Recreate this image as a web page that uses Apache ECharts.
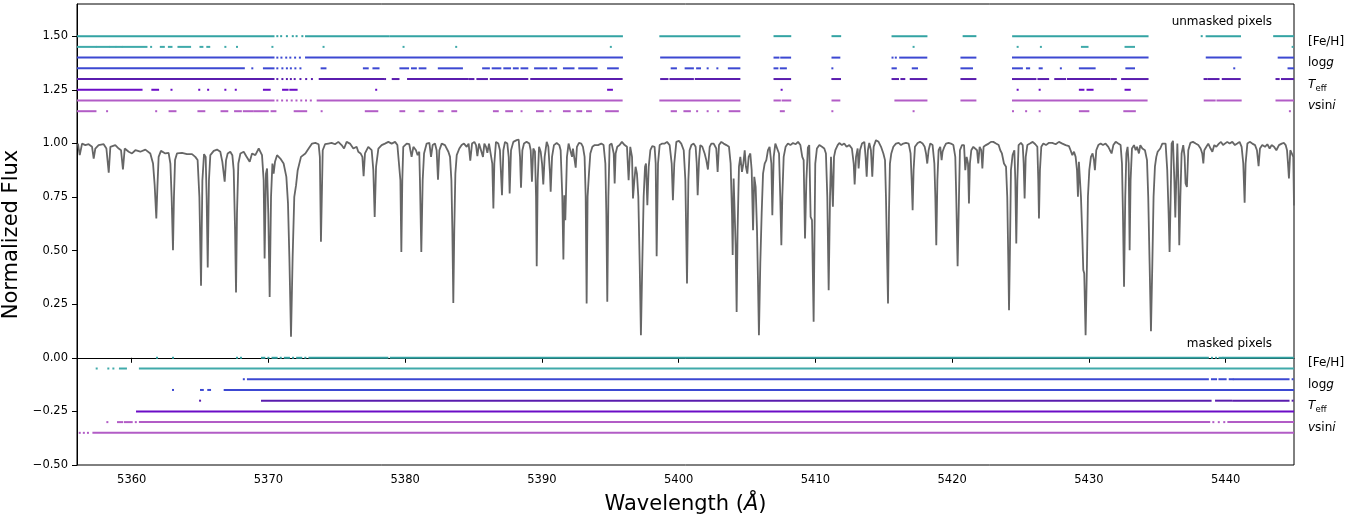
<!DOCTYPE html>
<html><head><meta charset="utf-8">
<script src="https://cdn.jsdelivr.net/npm/echarts@6/dist/echarts.min.js"></script>
<style>html,body{margin:0;padding:0;background:#fff}#c{width:1372px;height:519px}</style>
</head><body><div id="c"></div>
<script>
// ---------------- spectrum (wavelength in Å, normalized flux) ----------------
const wavelength = [
5356.07,5356.20,5356.37,5356.61,5356.85,5357.10,5357.22,5357.34,5357.58,5357.95,5358.15,5358.32,5358.44,5358.80,5359.05,5359.22,5359.36,5359.49,5359.78,5360.02,
5360.27,5360.63,5361.00,5361.36,5361.56,5361.68,5361.80,5361.88,5361.97,5362.14,5362.46,5362.70,5362.83,5362.92,5363.02,5363.09,5363.17,5363.31,5363.68,5364.04,
5364.41,5364.65,5364.82,5364.95,5365.07,5365.17,5365.29,5365.41,5365.48,5365.56,5365.65,5365.75,5366.00,5366.24,5366.48,5366.63,5366.73,5366.80,5366.90,5367.02,
5367.21,5367.36,5367.46,5367.56,5367.63,5367.70,5367.80,5367.95,5368.19,5368.38,5368.63,5368.80,5369.04,5369.29,5369.53,5369.65,5369.72,5369.82,5369.90,5369.99,
5370.09,5370.19,5370.29,5370.38,5370.48,5370.63,5370.87,5371.11,5371.31,5371.43,5371.53,5371.65,5371.77,5371.89,5372.02,5372.14,5372.38,5372.70,5372.94,5373.19,
5373.43,5373.67,5373.76,5373.84,5373.97,5374.14,5374.38,5374.62,5374.87,5375.11,5375.35,5375.53,5375.72,5375.96,5376.21,5376.45,5376.57,5376.74,5376.87,5376.96,
5377.06,5377.18,5377.30,5377.43,5377.55,5377.67,5377.77,5377.87,5378.04,5378.28,5378.52,5378.77,5379.01,5379.26,5379.43,5379.57,5379.65,5379.72,5379.79,5379.86,
5380.11,5380.30,5380.47,5380.60,5380.79,5380.91,5381.03,5381.08,5381.18,5381.28,5381.38,5381.57,5381.77,5381.89,5382.01,5382.18,5382.30,5382.40,5382.50,5382.67,
5382.91,5383.16,5383.28,5383.38,5383.45,5383.52,5383.59,5383.67,5383.77,5383.96,5384.13,5384.30,5384.50,5384.64,5384.76,5384.89,5385.06,5385.18,5385.28,5385.40,
5385.54,5385.69,5385.79,5385.91,5386.01,5386.13,5386.25,5386.37,5386.45,5386.52,5386.64,5386.81,5386.93,5387.08,5387.18,5387.30,5387.47,5387.57,5387.64,5387.74,
5387.91,5388.15,5388.30,5388.40,5388.47,5388.57,5388.69,5388.88,5389.08,5389.18,5389.27,5389.37,5389.49,5389.57,5389.62,5389.69,5389.79,5389.91,5390.01,5390.10,
5390.20,5390.35,5390.47,5390.59,5390.64,5390.74,5390.88,5391.08,5391.27,5391.37,5391.49,5391.57,5391.64,5391.71,5391.83,5391.95,5392.08,5392.20,5392.27,5392.37,
5392.47,5392.56,5392.71,5392.88,5393.00,5393.12,5393.20,5393.27,5393.34,5393.44,5393.54,5393.69,5393.86,5394.10,5394.34,5394.51,5394.64,5394.71,5394.78,5394.86,
5394.95,5395.10,5395.25,5395.32,5395.39,5395.51,5395.68,5395.85,5396.05,5396.22,5396.34,5396.46,5396.59,5396.66,5396.76,5396.85,5396.95,5397.05,5397.15,5397.24,
5397.34,5397.44,5397.54,5397.61,5397.71,5397.81,5397.93,5398.07,5398.24,5398.32,5398.39,5398.49,5398.61,5398.80,5398.98,5399.15,5399.34,5399.49,5399.58,5399.68,
5399.83,5400.02,5400.19,5400.37,5400.49,5400.61,5400.71,5400.80,5400.93,5401.10,5401.24,5401.32,5401.39,5401.49,5401.58,5401.73,5401.90,5402.02,5402.14,5402.27,
5402.39,5402.56,5402.75,5402.85,5402.95,5403.12,5403.29,5403.49,5403.68,5403.80,5403.90,5403.95,5404.02,5404.09,5404.17,5404.24,5404.31,5404.41,5404.51,5404.63,
5404.73,5404.83,5404.92,5405.02,5405.12,5405.24,5405.34,5405.44,5405.53,5405.63,5405.73,5405.80,5405.87,5405.97,5406.07,5406.17,5406.29,5406.41,5406.53,5406.65,
5406.78,5406.85,5406.95,5407.07,5407.19,5407.34,5407.43,5407.51,5407.58,5407.68,5407.82,5407.99,5408.17,5408.36,5408.56,5408.73,5408.90,5409.04,5409.14,5409.24,
5409.34,5409.45,5409.55,5409.65,5409.75,5409.87,5409.99,5410.11,5410.29,5410.48,5410.65,5410.77,5410.87,5410.97,5411.07,5411.14,5411.21,5411.28,5411.36,5411.46,
5411.63,5411.75,5411.94,5412.11,5412.28,5412.48,5412.67,5412.80,5412.87,5412.97,5413.09,5413.16,5413.26,5413.41,5413.58,5413.67,5413.75,5413.84,5413.94,5414.06,
5414.16,5414.26,5414.43,5414.62,5414.80,5414.97,5415.09,5415.16,5415.23,5415.31,5415.38,5415.45,5415.55,5415.70,5415.89,5416.09,5416.26,5416.43,5416.62,5416.82,
5416.96,5417.04,5417.11,5417.18,5417.28,5417.48,5417.65,5417.84,5417.99,5418.09,5418.18,5418.28,5418.40,5418.57,5418.70,5418.77,5418.84,5418.92,5419.01,5419.13,
5419.23,5419.30,5419.43,5419.55,5419.74,5419.91,5420.09,5420.23,5420.30,5420.40,5420.50,5420.57,5420.72,5420.87,5420.96,5421.06,5421.16,5421.23,5421.30,5421.40,
5421.55,5421.69,5421.82,5421.91,5422.01,5422.13,5422.21,5422.30,5422.47,5422.67,5422.84,5423.01,5423.21,5423.40,5423.52,5423.64,5423.79,5423.94,5424.03,5424.11,
5424.16,5424.23,5424.30,5424.42,5424.55,5424.62,5424.69,5424.77,5424.86,5425.03,5425.16,5425.23,5425.30,5425.38,5425.50,5425.69,5425.89,5426.08,5426.23,5426.30,
5426.35,5426.42,5426.52,5426.67,5426.86,5427.06,5427.32,5427.57,5427.81,5428.06,5428.30,5428.54,5428.66,5428.79,5428.91,5429.03,5429.13,5429.20,5429.27,5429.35,
5429.42,5429.52,5429.59,5429.66,5429.76,5429.86,5429.93,5430.03,5430.15,5430.27,5430.37,5430.44,5430.54,5430.69,5430.86,5431.03,5431.22,5431.42,5431.54,5431.66,
5431.79,5431.96,5432.15,5432.32,5432.42,5432.49,5432.57,5432.66,5432.74,5432.83,5432.91,5432.98,5433.05,5433.15,5433.30,5433.42,5433.52,5433.66,5433.76,5433.91,
5434.10,5434.25,5434.34,5434.44,5434.54,5434.64,5434.73,5434.83,5434.93,5435.03,5435.12,5435.22,5435.37,5435.49,5435.61,5435.73,5435.83,5435.90,5435.98,5436.05,
5436.15,5436.25,5436.32,5436.39,5436.47,5436.54,5436.61,5436.69,5436.78,5436.90,5437.00,5437.07,5437.17,5437.27,5437.42,5437.61,5437.81,5438.00,5438.17,5438.29,
5438.37,5438.44,5438.59,5438.73,5438.90,5439.03,5439.17,5439.32,5439.51,5439.66,5439.81,5439.95,5440.12,5440.29,5440.49,5440.68,5440.85,5441.02,5441.17,5441.29,
5441.39,5441.46,5441.59,5441.76,5441.95,5442.15,5442.29,5442.41,5442.51,5442.68,5442.88,5443.05,5443.22,5443.36,5443.54,5443.71,5443.90,5444.10,5444.27,5444.39,
5444.49,5444.56,5444.63,5444.73,5444.83,5444.95,5445.00
];
const flux = [
0.999,0.945,0.999,0.992,0.996,0.984,0.929,0.976,0.992,0.996,0.976,0.863,0.984,0.992,0.976,0.968,0.878,0.976,0.961,0.953,
0.968,0.961,0.971,0.953,0.906,0.805,0.650,0.797,0.937,0.965,0.953,0.956,0.906,0.751,0.502,0.751,0.922,0.953,0.956,0.950,
0.950,0.937,0.922,0.751,0.336,0.828,0.950,0.937,0.751,0.421,0.828,0.945,0.965,0.971,0.961,0.914,0.906,0.821,0.922,0.953,
0.961,0.945,0.875,0.595,0.304,0.673,0.906,0.953,0.961,0.940,0.914,0.953,0.945,0.976,0.945,0.828,0.463,0.859,0.883,0.673,
0.284,0.751,0.906,0.859,0.914,0.945,0.929,0.906,0.844,0.720,0.471,0.098,0.471,0.751,0.805,0.875,0.937,0.953,0.976,0.999,
1.002,0.996,0.937,0.541,0.968,0.996,0.999,1.002,0.996,1.007,0.992,0.976,1.007,0.999,0.976,0.984,0.961,0.953,0.937,0.847,
0.953,0.945,0.984,0.992,0.968,0.875,0.657,0.891,0.976,0.992,0.999,1.007,0.999,1.007,0.992,0.984,0.828,0.494,0.828,0.984,
0.999,0.996,0.937,0.984,0.968,0.945,0.961,0.828,0.494,0.828,0.953,0.999,1.002,0.937,0.992,0.999,0.968,0.831,0.968,0.999,
0.992,0.961,0.937,0.828,0.595,0.256,0.595,0.859,0.945,0.976,0.992,0.999,0.984,0.999,0.919,0.999,1.007,0.992,0.940,0.999,
1.007,0.937,0.999,0.984,0.956,0.999,1.007,0.906,0.696,0.906,1.007,0.999,0.968,0.758,0.968,1.007,0.999,0.937,0.766,0.968,
1.007,1.015,1.018,0.937,0.793,0.968,0.999,1.007,0.999,0.968,0.821,0.976,0.961,0.751,0.427,0.828,0.984,0.961,0.906,0.808,
0.937,1.007,0.984,0.859,0.774,0.937,0.992,1.002,0.992,0.968,0.751,0.458,0.758,0.642,0.937,0.999,0.992,0.937,0.976,0.968,
0.887,0.984,1.002,0.999,0.984,0.937,0.751,0.253,0.751,0.859,0.953,0.984,0.992,0.992,0.999,0.992,0.906,0.673,0.261,0.751,
0.992,0.999,0.953,0.813,0.953,0.984,0.992,1.007,0.992,0.984,0.828,0.984,0.937,0.743,0.828,0.891,0.859,0.751,0.440,0.105,
0.440,0.751,0.891,0.906,0.712,0.891,0.968,0.987,0.984,0.906,0.474,0.906,0.992,0.999,0.999,1.007,0.992,0.906,0.735,0.906,
1.007,1.012,0.999,0.968,0.828,0.346,0.828,0.968,0.992,0.999,0.984,0.906,0.758,0.922,0.992,0.984,0.953,0.922,0.878,0.984,
0.999,0.999,0.976,0.867,0.992,1.007,0.999,0.992,0.984,0.906,0.673,0.479,0.836,0.828,0.517,0.214,0.595,0.891,0.937,0.867,
0.906,0.968,0.891,0.859,0.937,0.953,0.875,0.595,0.844,0.797,0.595,0.362,0.105,0.440,0.673,0.859,0.906,0.922,0.968,0.984,
0.906,0.665,0.937,0.999,0.999,0.953,0.751,0.525,0.751,0.937,0.984,0.999,0.992,1.002,0.996,1.007,0.992,0.937,0.922,0.556,
0.828,0.980,0.992,0.657,0.642,0.168,0.906,0.976,0.992,0.984,0.976,0.953,0.751,0.315,0.751,0.937,0.945,0.704,0.937,0.968,
0.992,1.002,0.992,0.999,0.984,0.992,0.976,0.906,0.808,0.937,0.976,0.883,0.968,0.999,1.007,0.937,0.844,0.968,1.002,0.968,
0.844,0.984,1.015,1.007,0.984,0.953,0.922,0.751,0.517,0.253,0.673,0.906,0.953,0.984,0.999,1.002,0.992,0.999,1.002,0.999,
0.953,0.828,0.688,0.875,0.984,1.002,1.007,0.999,0.984,0.953,0.906,0.968,0.999,0.992,0.906,0.751,0.525,0.828,0.968,0.984,
0.922,0.961,0.984,0.999,1.002,0.999,0.992,0.937,0.751,0.427,0.751,0.968,0.992,0.992,0.875,0.937,0.906,0.720,0.906,0.968,
0.984,0.976,0.968,0.906,0.984,0.968,0.883,0.984,0.992,0.999,1.007,1.007,0.999,0.992,0.968,0.953,0.906,0.891,0.751,0.440,
0.222,0.517,0.875,0.945,0.968,0.828,0.533,0.828,0.992,1.002,0.992,0.906,0.743,0.937,0.992,0.999,1.007,0.996,0.984,0.828,
0.650,0.875,0.984,0.999,0.992,1.002,1.002,0.996,1.007,0.999,0.992,0.987,0.968,0.945,0.961,0.937,0.875,0.751,0.914,0.906,
0.751,0.564,0.409,0.393,0.105,0.440,0.751,0.875,0.937,0.953,0.922,0.875,0.968,0.992,0.999,0.992,0.999,0.984,0.968,0.953,
0.992,1.007,0.999,0.992,0.906,0.673,0.331,0.751,0.953,0.984,0.906,0.502,0.828,0.976,0.992,0.968,0.984,0.953,0.992,0.976,
0.968,0.922,0.751,0.440,0.124,0.440,0.751,0.891,0.937,0.961,0.953,0.976,0.999,1.007,0.999,0.875,0.673,0.494,0.751,0.999,
1.012,0.828,0.654,0.828,0.999,0.828,0.525,0.751,0.953,0.992,0.937,0.813,0.797,0.968,1.002,1.007,0.999,0.992,0.976,0.953,
0.906,0.968,0.984,0.999,0.976,0.961,0.992,0.984,0.999,1.007,0.992,0.999,1.007,0.999,1.007,0.992,0.999,1.007,0.984,0.906,
0.723,0.906,0.999,1.007,0.999,0.992,0.968,0.894,0.976,0.992,0.984,0.996,0.976,0.992,0.984,0.968,0.992,0.999,1.002,0.992,
0.968,0.906,0.836,0.968,0.971,0.937,0.710
];

// ---------------- axis ticks ----------------
const xTicks = [5360,5370,5380,5390,5400,5410,5420,5430,5440];
const yTicks = [-0.5,-0.25,0,0.25,0.5,0.75,1.0,1.25,1.5];

// ---------------- pixel rows: y level of each row ----------------
const unmaskedY = [1.50,1.45,1.40,1.35,1.30,1.25,1.20,1.15];
const maskedY   = [0.00,-0.05,-0.10,-0.15,-0.20,-0.25,-0.30,-0.35];
const paramNames = ['[Fe/H]','logg','Teff','vsini'];

// unmasked pixel runs (Å); single numbers are single pixels
const fehUnmaskedA = [[5356,5370.37],5370.65,5370.93,5371.35,5371.78,5372.06,5372.48,[5372.75,5378.80],[5378.95,5395.85],[5398.66,5404.44],[5407.01,5408.16],[5411.25,5411.81],[5415.64,5418.12],[5420.84,5421.70],[5424.46,5434.29],5438.25,[5438.61,5441.05],[5443.55,5445]];
const fehUnmaskedB = [[5356,5357.35],[5357.45,5358.35],[5358.45,5358.8],[5358.9,5359.25],[5359.35,5361.08],5361.42,[5362.13,5362.35],[5362.72,5362.91],[5363.42,5364.27],[5365.03,5365.17],[5365.53,5365.67],5366.85,5367.70,5370.29,5374.03,5379.88,5383.73,5395.04,5417.18,5424.79,5426.49,[5429.49,5429.90],[5432.68,5433.30],5444.9];
const loggUnmaskedA = [[5356,5370.37],5370.65,5370.95,5371.3,5371.6,5371.95,5372.3,[5372.75,5395.85],[5398.72,5404.44],[5407.01,5407.3],[5407.5,5408.15],[5411.25,5411.75],5415.64,5415.88,[5416.2,5418.11],[5420.68,5421.70],[5424.45,5434.29],[5438.62,5441.1],[5443.88,5445]];
const loggUnmaskedB = [[5356,5368.2],5368.82,[5369.67,5370.37],5370.65,5371.02,5371.35,5371.64,5371.97,5372.34,[5373.89,5374.17],[5376.98,5377.26],[5377.68,5378.05],[5379.65,5380.21],[5380.50,5380.78],[5381.06,5381.48],[5382.46,5384.15],[5385.70,5386.12],[5386.40,5386.96],[5387.25,5387.67],[5387.95,5388.23],[5388.51,5388.93],[5389.50,5390.34],[5390.62,5391.04],[5391.61,5392.31],[5392.73,5394.00],[5394.84,5395.55],[5399.49,5399.80],[5400.51,5401.04],[5401.35,5401.56],5402.12,5402.83,[5403.67,5404.44],[5407.01,5407.22],[5407.47,5407.84],5411.24,[5415.64,5415.88],[5417.12,5417.43],[5420.68,5421.45],[5424.45,5425.10],[5425.47,5425.63],[5426.40,5426.55],5427.95,[5429.34,5430.42],[5432.74,5433.30],5440.63,[5444.6,5445]];
const teffUnmaskedA = [[5356,5370.37],5370.65,5371.02,5371.35,5371.64,5371.92,5372.34,5372.76,5373.18,[5373.75,5378.39],5378.53,[5379.09,5379.51],[5380.21,5384.57],[5384.71,5384.99],[5385.28,5385.98],[5386.26,5388.93],[5389.22,5395.83],[5398.72,5399.18],[5399.40,5401.04],[5401.25,5404.44],[5407.01,5408.15],[5411.24,5411.80],[5415.64,5416.04],[5416.29,5416.50],[5416.97,5418.11],[5420.68,5421.70],[5424.45,5426.09],[5426.31,5427.02],[5427.54,5428.26],[5428.47,5431.50],[5431.66,5431.97],[5432.43,5434.29],[5438.46,5438.62],[5438.77,5439.48],[5439.79,5441.03],[5443.72,5443.88],[5444.12,5445]];
const teffUnmaskedB = [[5356,5360.72],[5361.51,5361.93],5362.91,5364.94,5365.59,5366.85,5367.61,[5369.67,5370.09],[5371.07,5371.4],[5371.6,5372.06],5377.88,[5394.84,5395.12],5407.53,5424.79,5426.40,[5429.34,5429.6],[5429.9,5430.27],[5432.68,5432.99]];
const vsiniUnmaskedA = [[5356,5370.37],5370.65,5371.0,5371.35,5371.7,5372.05,5372.4,5372.75,5373.1,[5373.6,5395.83],[5398.66,5404.44],[5407.01,5407.4],[5407.6,5408.16],[5411.25,5411.75],[5415.85,5418.12],[5420.68,5421.70],[5424.45,5434.22],[5438.47,5439.2],[5439.4,5441.1],[5443.72,5445]];
const vsiniUnmaskedB = [[5356,5357.35],5358.2,5361.79,[5362.77,5363.20],[5364.88,5365.31],[5366.57,5366.99],[5367.56,5367.98],[5368.20,5368.82],[5368.96,5369.95],[5370.23,5370.51],[5371.92,5372.76],5373.89,[5377.12,5377.96],[5379.65,5379.93],[5381.06,5381.34],[5382.46,5382.74],[5383.45,5383.73],[5386.49,5386.77],[5387.39,5387.81],5388.51,[5389.64,5390.06],5390.62,[5391.61,5392.03],[5392.59,5392.87],[5393.30,5393.58],[5394.70,5395.55],[5399.49,5399.80],[5400.42,5400.82],5401.35,5402.12,5402.89,[5403.73,5404.44],[5407.47,5407.69],5411.24,5417.18,5424.45,5425.41,5426.40,[5429.34,5429.96],[5432.59,5433.36],5444.7];

// masked pixel runs (Å)
const fehMaskedA = [5361.85,5363.02,5367.70,5367.99,[5369.53,5369.7],5370.0,[5370.3,5370.6],5370.9,[5371.2,5371.5],5371.8,[5372.1,5372.4],5372.7,[5373.0,5378.7],[5378.95,5438.7],5439.0,5439.3,[5439.55,5439.75],[5439.85,5445]];
const fehMaskedB = [5357.44,5358.29,5358.66,[5359.14,5359.58],[5360.6,5445]];
const loggMaskedA = [5368.2,[5368.5,5438.7],[5439.0,5439.3],[5439.55,5440.0],[5440.3,5440.5],[5440.6,5444.6],5444.9];
const loggMaskedB = [5363.02,[5365.07,5365.2],[5365.6,5365.73],[5366.8,5445]];
const teffMaskedA = [5365.0,[5369.53,5438.9],[5439.3,5440.4],[5440.55,5444.6],5444.9];
const teffMaskedB = [[5360.39,5445]];
const vsiniMaskedA = [5358.22,[5359.0,5359.3],[5359.5,5360.0],5360.3,[5360.6,5438.8],5439.1,5439.5,5439.9,[5440.2,5445]];
const vsiniMaskedB = [5356.2,5356.5,5356.8,[5357.2,5445]];

// ---------------- styling ----------------
const FONT = 'DejaVu Sans';
const rowColors = ['#33a3a3','#40aaaa','#3c48d2','#3c48d2','#5a1cae','#6b0cc6','#b25cc6','#b25cc6'];

const unmaskedRows = [fehUnmaskedA,fehUnmaskedB,loggUnmaskedA,loggUnmaskedB,teffUnmaskedA,teffUnmaskedB,vsiniUnmaskedA,vsiniUnmaskedB];
const maskedRows   = [fehMaskedA,fehMaskedB,loggMaskedA,loggMaskedB,teffMaskedA,teffMaskedB,vsiniMaskedA,vsiniMaskedB];

function rowSeries(runs, y, color) {
  return {
    type: 'custom', silent: true, clip: true, animation: false, z: 3,
    data: runs.map(r => Array.isArray(r) ? [r[0], r[1], y] : [r, r, y]),
    encode: { x: [0, 1], y: 2 },
    renderItem: function (params, api) {
      const a = api.coord([api.value(0), api.value(2)]);
      const b = api.coord([api.value(1), api.value(2)]);
      const w = Math.max(b[0] - a[0], 0) + 2;
      return { type: 'rect', shape: { x: a[0] - 1, y: a[1] - 1, width: w, height: 2 }, style: { fill: color } };
    }
  };
}

const series = [{
  type: 'line', data: wavelength.map((w, i) => [w, flux[i]]), showSymbol: false, silent: true,
  lineStyle: { color: '#666666', width: 1.8 }, animation: false, z: 2, clip: true
}];
unmaskedRows.forEach((r, i) => series.push(rowSeries(r, unmaskedY[i], rowColors[i])));
maskedRows.forEach((r, i) => series.push(rowSeries(r, maskedY[i], rowColors[i])));

const fmt = v => (v < 0 ? '\u2212' + Math.abs(v).toFixed(2) : v.toFixed(2));

const chart = echarts.init(document.getElementById('c'), null, { renderer: 'canvas' });
chart.setOption({
  animation: false,
  textStyle: { fontFamily: FONT },
  grid: { left: 77, right: 78, top: 4, bottom: 54, containLabel: false, outerBoundsMode: 'none',
          show: true, borderColor: '#000', borderWidth: 1, backgroundColor: 'transparent' },
  xAxis: {
    type: 'value', min: 5356, max: 5445,
    name: '{n|Wavelength (}{i|Å}{n|)}', nameLocation: 'middle', nameGap: 29,
    nameTextStyle: { rich: { n: { fontFamily: FONT, fontSize: 21, color: '#000' }, i: { fontFamily: FONT, fontSize: 21, fontStyle: 'italic', color: '#000' } } },
    axisLine: { show: true, lineStyle: { color: '#000', width: 1 } },
    axisTick: { show: true, length: 5, lineStyle: { color: '#000' }, customValues: xTicks },
    axisLabel: { customValues: xTicks, fontSize: 11.5, color: '#000', margin: 9, fontFamily: FONT, formatter: v => String(v) },
    splitLine: { show: false }
  },
  yAxis: {
    type: 'value', min: -0.5, max: 1.65,
    name: 'Normalized Flux', nameLocation: 'middle', nameGap: 36, nameRotate: 90,
    nameTextStyle: { fontSize: 21, color: '#000', fontFamily: FONT },
    axisLine: { show: true, lineStyle: { color: '#000', width: 1 } },
    axisTick: { show: true, length: 5, lineStyle: { color: '#000' }, customValues: yTicks },
    axisLabel: { customValues: yTicks, fontSize: 11.5, color: '#000', margin: 9, fontFamily: FONT, formatter: fmt },
    splitLine: { show: false }
  },
  series: series
});

// ---------------- annotations ----------------
function px(x, y) { return chart.convertToPixel({ xAxisIndex: 0, yAxisIndex: 0 }, [x, y]); }
const rightEdge = px(5445, 0)[0];
const labelStyle = { fontFamily: FONT, fontSize: 12, fill: '#000' };
const graphics = [];
const richLabels = {
  '[Fe/H]': '{n|[Fe/H]}',
  'logg': '{n|log}{i|g}',
  'vsini': '{i|v}{n|sin}{i|i}'
};
const rich = {
  n: { fontFamily: FONT, fontSize: 12, fill: '#000' },
  i: { fontFamily: FONT, fontSize: 12, fontStyle: 'italic', fill: '#000' }
};
function addParamLabels(ys) {
  paramNames.forEach((name, k) => {
    const yMid = (ys[2 * k] + ys[2 * k + 1]) / 2;
    const p = px(5445, yMid);
    const x0 = rightEdge + 14;
    if (name === 'Teff') {
      graphics.push({ type: 'text', x: x0, y: p[1], style: { text: 'T', fontFamily: FONT, fontSize: 12, fontStyle: 'italic', fill: '#000', verticalAlign: 'middle', align: 'left' } });
      graphics.push({ type: 'text', x: x0 + 7.5, y: p[1] + 4, style: { text: 'eff', fontFamily: FONT, fontSize: 8.5, fill: '#000', verticalAlign: 'middle', align: 'left' } });
    } else {
      graphics.push({ type: 'text', x: x0, y: p[1], style: { text: richLabels[name], rich: rich, verticalAlign: 'middle', align: 'left' } });
    }
  });
}
addParamLabels(unmaskedY);
addParamLabels(maskedY);
const pu = px(5443.4, 1.565);
graphics.push({ type: 'text', x: pu[0], y: pu[1], style: Object.assign({ text: 'unmasked pixels', align: 'right', verticalAlign: 'middle' }, labelStyle) });
const pm = px(5443.4, 0.064);
graphics.push({ type: 'text', x: pm[0], y: pm[1], style: Object.assign({ text: 'masked pixels', align: 'right', verticalAlign: 'middle' }, labelStyle) });
chart.setOption({ graphic: graphics });
</script></body></html>
